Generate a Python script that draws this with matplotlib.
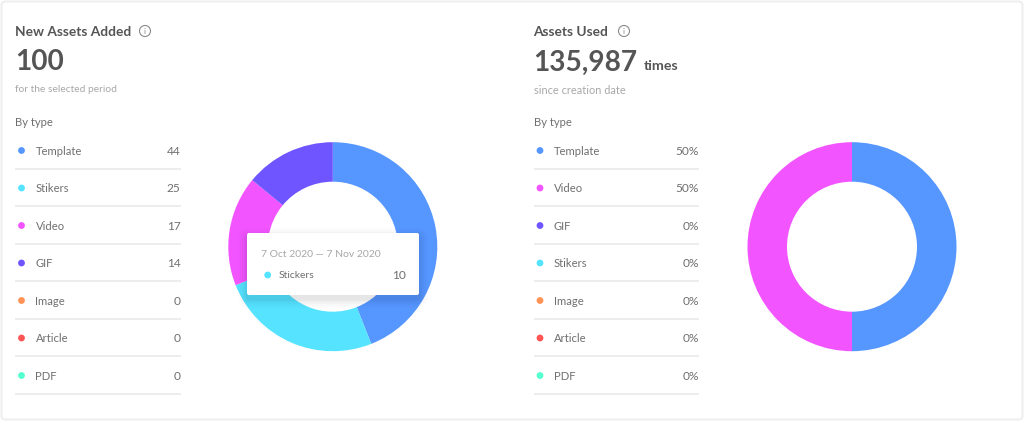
import matplotlib
matplotlib.use("Agg")
import matplotlib.pyplot as plt
from matplotlib.patches import FancyBboxPatch, Circle

plt.rcParams['font.family'] = ['Lato', 'DejaVu Sans']

COLORS = {"Template": "#5596FF", "Stikers": "#55E3FF", "Video": "#F255FF", "GIF": "#6E55FF",
          "Image": "#FF9255", "Article": "#FF5555", "PDF": "#55FFCF"}

left_types = ["Template", "Stikers", "Video", "GIF", "Image", "Article", "PDF"]
left_values = [44, 25, 17, 14, 0, 0, 0]
right_types = ["Template", "Video", "GIF", "Stikers", "Image", "Article", "PDF"]
right_values = [50, 50, 0, 0, 0, 0, 0]

W, H = 1024, 421
fig = plt.figure(figsize=(W / 100, H / 100), dpi=100, facecolor="white")
bg = fig.add_axes([0, 0, 1, 1])
bg.set_xlim(0, W)
bg.set_ylim(H, 0)
bg.axis("off")

DARK = "#555555"
MID = "#6f6f6f"
LIGHT = "#a8a8a8"
LINE = "#e8e8e8"

# card
bg.add_patch(FancyBboxPatch((1.5, 1.5), W - 3, H - 3, boxstyle="round,pad=0,rounding_size=4",
                            fc="white", ec="#eeeeee", lw=1.4))


def panel(x0, title, total, unit, sub, sub_size, types, values, suffix, info_x, cx):
    bg.text(x0, 32, title, fontsize=9.95, fontweight="bold", color=DARK, va="center", ha="left")
    bg.add_patch(Circle((info_x, 31), 5.5, fc="none", ec="#8a8a8a", lw=0.8))
    bg.text(info_x, 31.4, "i", fontsize=6, color="#8a8a8a", va="center", ha="center")
    bg.text(x0, 62.5, total, fontsize=20.2, fontweight="bold", color=DARK, va="center", ha="left")
    if unit:
        bg.text(644, 66.5, unit, fontsize=10.3, fontweight="bold", color=DARK, va="center", ha="left")
    bg.text(x0, 90, sub, fontsize=sub_size, color=LIGHT, va="center", ha="left")
    bg.text(x0, 122, "By type", fontsize=8.1, color=MID, va="center", ha="left")
    y = 150.5
    for name, val in zip(types, values):
        bg.add_patch(Circle((x0 + 6.5, y), 3.4, fc=COLORS[name], ec="none"))
        bg.text(x0 + 20.5, y + 0.8, name, fontsize=8.1, color=MID, va="center", ha="left")
        bg.text(x0 + 165.5, y + 0.8, f"{val}{suffix}", fontsize=8.6, color=MID, va="center", ha="right")
        bg.plot([x0, x0 + 165.5], [y + 18, y + 18], color=LINE, lw=1.1, solid_capstyle="butt")
        y += 37.5
    size = 212
    ax = fig.add_axes([(cx - size / 2) / W, 1 - (246.7 + size / 2) / H, size / W, size / H])
    shown = [(n, v) for n, v in zip(types, values) if v > 0]
    ax.pie([v for _, v in shown], colors=[COLORS[n] for n, _ in shown], startangle=90,
           counterclock=False, radius=104.5 / 106, wedgeprops=dict(width=39.5 / 106, lw=0))
    ax.set_xlim(-1, 1)
    ax.set_ylim(-1, 1)
    return ax


panel(15, "New Assets Added", "100", None, "for the selected period", 7.4, left_types, left_values, "", 145, 332.8)
panel(533.5, "Assets Used", "135,987", "times", "since creation date", 7.95, right_types, right_values, "%", 624, 852)

# tooltip overlay
top = fig.add_axes([0, 0, 1, 1], zorder=10)
top.set_xlim(0, W)
top.set_ylim(H, 0)
top.axis("off")
top.patch.set_alpha(0)
for grow, alpha in [(9, 0.012), (7, 0.014), (5, 0.018), (3, 0.022), (1.5, 0.028)]:
    top.add_patch(FancyBboxPatch((247 - grow, 233 - grow + 4), 172 + 2 * grow, 62 + 2 * grow,
                                 boxstyle="round,pad=0,rounding_size=%g" % (2 + grow),
                                 fc="black", ec="none", alpha=alpha))
top.add_patch(FancyBboxPatch((247, 233), 172, 62, boxstyle="round,pad=0,rounding_size=2",
                             fc="white", ec="none"))
top.text(261, 254.8, "7 Oct 2020 — 7 Nov 2020", fontsize=7.45, color=LIGHT, va="center", ha="left")
top.add_patch(Circle((267.7, 275), 3.4, fc=COLORS["Stikers"], ec="none"))
top.text(278.3, 275.8, "Stickers", fontsize=7.5, color=MID, va="center", ha="left")
top.text(405.5, 275.8, "10", fontsize=8.6, color=MID, va="center", ha="right")

fig.savefig("out.png", dpi=100)
